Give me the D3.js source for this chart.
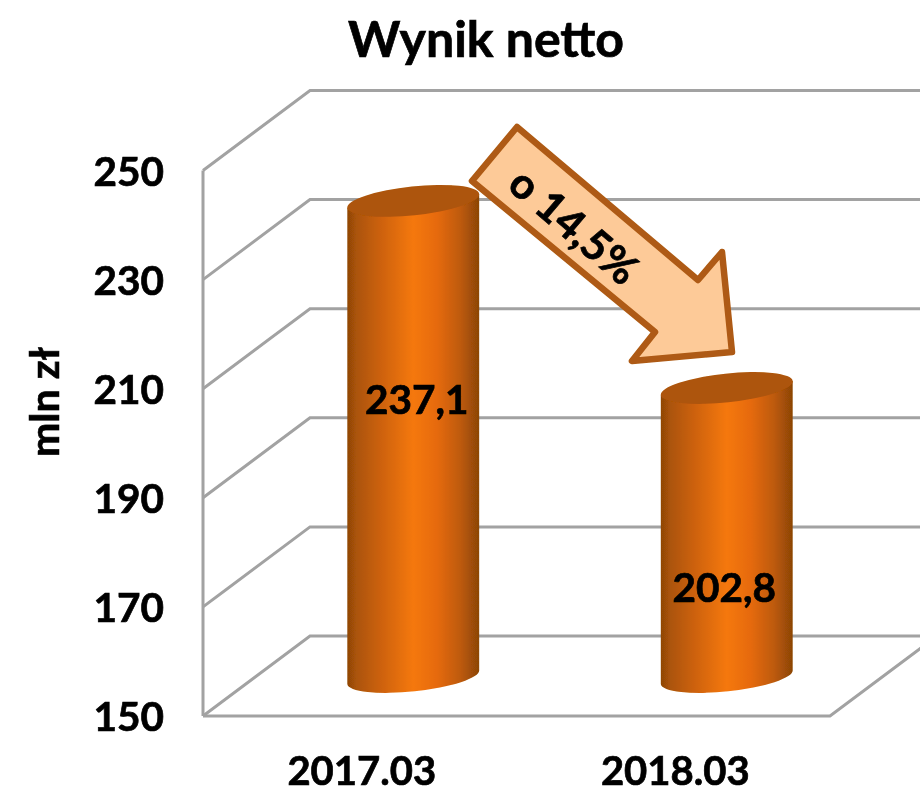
<!DOCTYPE html>
<html><head><meta charset="utf-8">
<script src="https://cdn.jsdelivr.net/npm/d3@7"></script>
<style>html,body{margin:0;padding:0;background:#fff}svg{display:block}text{font-family:Lato,"Liberation Sans",sans-serif;font-weight:700;fill:#000;stroke:#000;stroke-width:.7px}</style>
</head><body><script>
const categories = ["2017.03", "2018.03"];
const seriesValues = [237.1, 202.8];
const valueLabels = ["237,1", "202,8"];
const yTicks = [150, 170, 190, 210, 230, 250];
const titleText = "Wynik netto";
const yTitleText = "mln zł";
const arrowText = "o 14,5%";

const W = 920, H = 794;
const svg = d3.select("body").append("svg").attr("width", W).attr("height", H);
const defs = svg.append("defs");
const soft = defs.append("filter").attr("id", "soft").attr("x", "-5%").attr("y", "-5%").attr("width", "110%").attr("height", "110%");
soft.append("feGaussianBlur").attr("stdDeviation", 0.6);
const g = svg.append("g").attr("filter", "url(#soft)");

const left = 203, right = 830, floorY = 716, depthX = 107, depthY = 80;
const yFront = d3.scaleLinear().domain([150, 250]).range([floorY, 170.5]);
const yAt = (v, d) => yFront(v) - depthY * d;
const xFront = d3.scaleBand().domain(categories).range([left, right]).paddingInner(0).paddingOuter(0);
const xMid = c => xFront(c) + xFront.bandwidth() / 2 + depthX / 2;
const line = d3.line();
const gridCol = "#a2a2a2";

// walls
const walls = g.append("g").attr("fill", "none").attr("stroke", gridCol).attr("stroke-width", 3);
walls.selectAll(".side").data(yTicks).join("path").attr("class", "side")
  .attr("d", t => line([[left, yAt(t, 0)], [left + depthX, yAt(t, 1)], [W + 10, yAt(t, 1)]]));
walls.append("path").attr("d", line([[left, yFront(250)], [left, floorY]]));
walls.append("path").attr("d", line([[left, floorY], [right, floorY], [right + depthX, floorY - depthY]]));

// gradient
const grad = defs.append("linearGradient").attr("id", "cyl").attr("x1", 0).attr("x2", 1).attr("y1", 0).attr("y2", 0);
[[0, "#8f4506"], [0.07, "#ab5407"], [0.25, "#cc6108"], [0.5, "#f5780f"], [0.68, "#e66a08"], [0.86, "#bd5a08"], [1, "#8c4506"]]
  .forEach(([o, c]) => grad.append("stop").attr("offset", o).attr("stop-color", c));

// cylinders
const rx = 66.3, ry = 14.4, tilt = -6, rad = tilt * Math.PI / 180;
const hx = rx * Math.cos(rad), hy = rx * Math.sin(rad);
const bars = g.selectAll(".bar").data(categories).join("g").attr("class", "bar");
bars.append("path").attr("fill", "url(#cyl)").attr("d", (c, i) => {
  const cx = xMid(c), top = yAt(seriesValues[i], 0.5), base = yAt(150, 0.5) + 1;
  return `M${cx - hx},${top - hy}L${cx - hx},${base - hy}A${rx},${ry},${tilt},0,0,${cx + hx},${base + hy}L${cx + hx},${top + hy}Z`;
});
bars.append("ellipse").attr("fill", "#ad5408")
  .attr("rx", rx).attr("ry", ry)
  .attr("transform", (c, i) => `translate(${xMid(c)},${yAt(seriesValues[i], 0.5)}) rotate(${tilt})`);
bars.append("text").attr("text-anchor", "middle").attr("font-size", 40.5)
  .attr("x", (c, i) => xMid(c) + (i === 0 ? 3.5 : -2.5))
  .attr("y", (c, i) => yAt(seriesValues[i], 0.5) + 199)
  .attr("dy", "0.36em")
  .text((c, i) => valueLabels[i]);

// axes
const styleAxis = (sel, size) => { sel.select(".domain").remove();
  sel.selectAll("text").style("font-size", size + "px").style("font-family", "Lato").style("font-weight", 700).attr("fill", "#000"); };
const yAxis = g.append("g").attr("transform", `translate(164,2)`)
  .call(d3.axisLeft(yFront).tickValues(yTicks).tickSize(0).tickPadding(0));
styleAxis(yAxis, 40.5);
const xAxis = g.append("g").attr("transform", `translate(2,${floorY + 41})`)
  .call(d3.axisBottom(xFront).tickSize(0).tickPadding(0));
styleAxis(xAxis, 40);

g.append("text").attr("text-anchor", "middle").attr("font-size", 50).attr("x", 486).attr("y", 57).text(titleText);
g.append("text").attr("text-anchor", "middle").attr("font-size", 41)
  .attr("transform", "translate(59,402) rotate(-90)").text(yTitleText);

// annotation arrow
g.append("path")
  .attr("d", line([[517, 127], [472, 181], [655, 332], [632, 361], [732, 352], [722, 252], [698, 280]]) + "Z")
  .attr("fill", "#fdca98").attr("stroke", "#ae5a12").attr("stroke-width", 6.5).attr("stroke-linejoin", "round");
g.append("text").attr("text-anchor", "middle").attr("dy", "0.36em").attr("font-size", 42.5)
  .attr("transform", "translate(574,226) rotate(40.5)").text(arrowText);
</script></body></html>
